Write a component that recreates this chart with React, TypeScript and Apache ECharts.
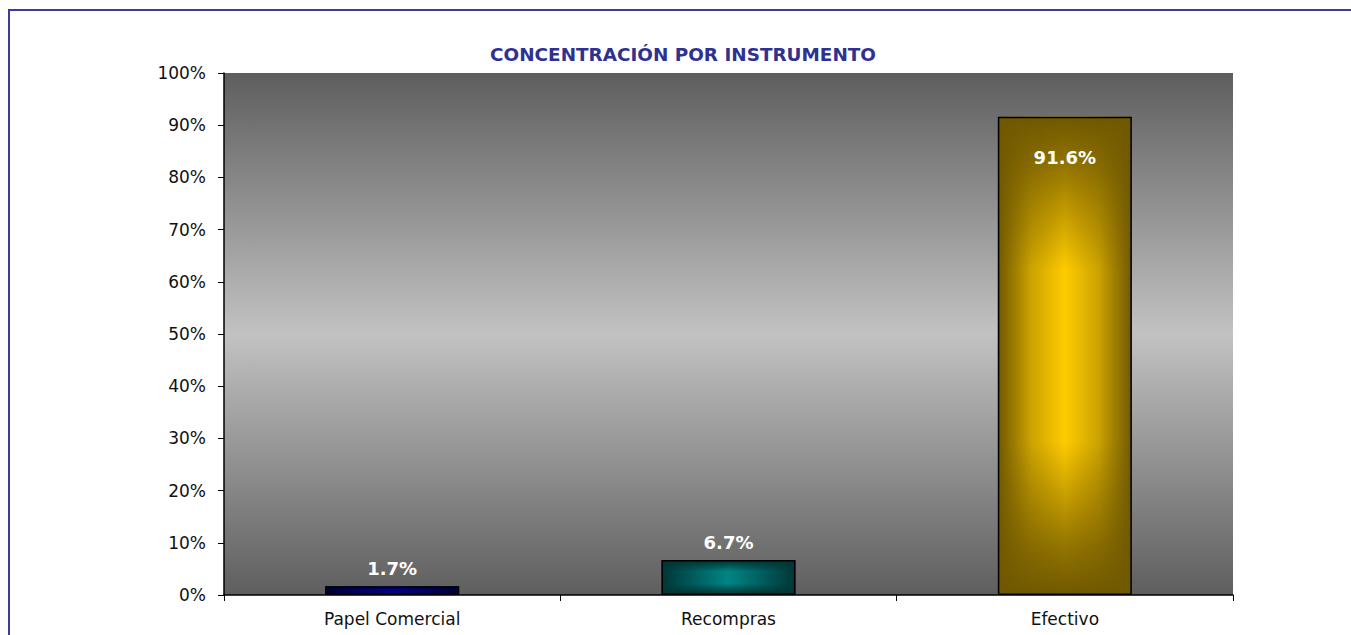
import React, { useEffect, useRef } from "react";
import * as echarts from "echarts";

const categories = ["Papel Comercial", "Recompras", "Efectivo"];
const values = [1.7, 6.7, 91.6];
const yTicks = [0, 10, 20, 30, 40, 50, 60, 70, 80, 90, 100];
const barCenters = ["#00008c", "#008585", "#ffcc00"];
const barMids = ["#000066", "#005e5e", "#cca300"];
const barEdges = ["#000030", "#003636", "#705800"];
const labelPositions = ["top", "top", "insideTop"];

export default function App() {
  const ref = useRef<HTMLDivElement>(null);
  useEffect(() => {
    if (!ref.current) return;
    const chart = echarts.init(ref.current, null, { renderer: "svg" });
    const fa = (c: string, a: number) => echarts.color.modifyAlpha(c, a);
    const baseData = values.map((v, i) => ({
      value: v,
      itemStyle: {
        color: {
          type: "linear",
          x: 0,
          y: 0,
          x2: 1,
          y2: 0,
          colorStops: [
            { offset: 0, color: barEdges[i] },
            { offset: 0.25, color: barMids[i] },
            { offset: 0.5, color: barCenters[i] },
            { offset: 0.75, color: barMids[i] },
            { offset: 1, color: barEdges[i] },
          ],
        },
      },
    }));
    const overlayData = values.map((v, i) => ({
      value: v,
      itemStyle: {
        color: {
          type: "linear",
          x: 0,
          y: 0,
          x2: 0,
          y2: 1,
          colorStops: [
            { offset: 0, color: fa(barEdges[i], 1) },
            { offset: 0.1, color: fa(barEdges[i], 0.75) },
            { offset: 0.32, color: fa(barEdges[i], 0) },
            { offset: 0.68, color: fa(barEdges[i], 0) },
            { offset: 0.9, color: fa(barEdges[i], 0.75) },
            { offset: 1, color: fa(barEdges[i], 1) },
          ],
        },
        borderColor: "#000",
        borderWidth: 1.5,
      },
      label: {
        position: labelPositions[i],
        distance: labelPositions[i] === "insideTop" ? 32 : 9,
      },
    }));
    chart.setOption({
      animation: false,
      backgroundColor: "#fff",
      title: {
        text: "CONCENTRACIÓN POR INSTRUMENTO",
        left: 678,
        textAlign: "center",
        top: 40,
        textStyle: {
          fontFamily: "DejaVu Sans",
          fontWeight: "bold",
          fontSize: 18.4,
          color: "#2e3192",
        },
      },
      graphic: [
        {
          type: "polyline",
          shape: { points: [[9, 640], [9, 10], [1360, 10]] },
          style: { stroke: "#3b3ba0", lineWidth: 2, fill: "none" },
          silent: true,
        },
      ],
      grid: {
        left: 224,
        right: 118,
        top: 73,
        bottom: 40,
        show: true,
        borderWidth: 0,
        backgroundColor: {
          type: "linear",
          x: 0,
          y: 0,
          x2: 0,
          y2: 1,
          colorStops: [
            { offset: 0, color: "#5e5e5e" },
            { offset: 0.5, color: "#c2c2c2" },
            { offset: 1, color: "#5e5e5e" },
          ],
        },
      },
      xAxis: {
        type: "category",
        data: categories,
        boundaryGap: true,
        axisLine: { lineStyle: { color: "#000", width: 1.5 } },
        axisTick: { show: true, length: 6, lineStyle: { color: "#000" } },
        axisLabel: {
          fontFamily: "DejaVu Sans",
          fontSize: 17,
          color: "#111",
          margin: 15,
        },
      },
      yAxis: {
        type: "value",
        min: 0,
        max: 100,
        interval: 10,
        axisLine: { show: true, lineStyle: { color: "#000", width: 1.5 } },
        axisTick: { show: true, length: 6, lineStyle: { color: "#000" } },
        splitLine: { show: false },
        axisLabel: {
          fontFamily: "DejaVu Sans",
          fontSize: 17,
          color: "#111",
          margin: 18,
          formatter: (v: number) => (yTicks.includes(v) ? v + "%" : ""),
        },
      },
      series: [
        {
          type: "bar",
          data: baseData,
          barWidth: 134,
          z: 2,
          silent: true,
        },
        {
          type: "bar",
          data: overlayData,
          barWidth: 134,
          barGap: "-100%",
          z: 3,
          label: {
            show: true,
            color: "#fff",
            fontFamily: "DejaVu Sans",
            fontWeight: "bold",
            fontSize: 18,
            formatter: (p: any) => p.value.toFixed(1) + "%",
          },
        },
      ],
    });
    return () => chart.dispose();
  }, []);
  return (
    <div
      ref={ref}
      style={{ position: "absolute", left: 0, top: 0, width: 1351, height: 635 }}
    />
  );
}
